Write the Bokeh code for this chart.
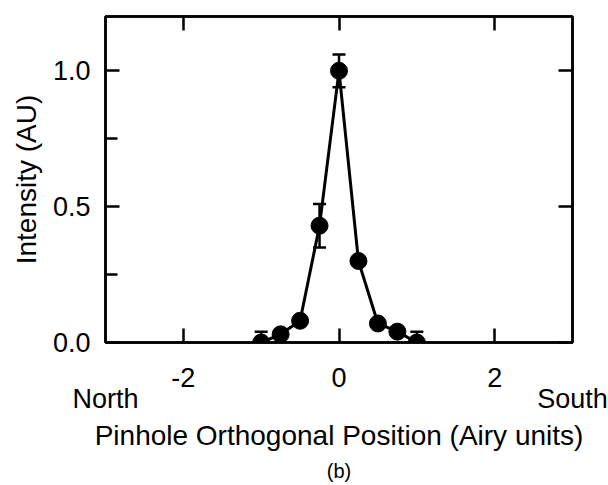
from bokeh.plotting import figure
from bokeh.models import (LinearAxis, FixedTicker, Range1d, Whisker, ColumnDataSource,
                          TeeHead, Title)
from bokeh.embed import file_html
from bokeh.resources import INLINE

# ---- data ----
positions = [-1.0, -0.75, -0.5, -0.25, 0.0, 0.25, 0.5, 0.75, 1.0]
intensity = [0.0, 0.03, 0.08, 0.43, 1.0, 0.30, 0.07, 0.04, 0.0]
errors = [0.04, 0.0, 0.0, 0.08, 0.06, 0.0, 0.0, 0.0, 0.04]
x_ticks = [-2, 0, 2]
x_tick_labels = ["-2", "0", "2"]
y_ticks = [0.0, 0.5, 1.0]
y_tick_labels = ["0.0", "0.5", "1.0"]
y_minor_ticks = [0.25, 0.75]
end_ticks = [-3, 3]
end_labels = ["North", "South"]
x_title = "Pinhole Orthogonal Position (Airy units)"
y_title = "Intensity (AU)"
panel_label = "(b)"

FONT = "Liberation Sans"
BLACK = "#000000"
LW = 2.5

p = figure(width=608, height=485, x_range=Range1d(-3, 3), y_range=Range1d(0, 1.2),
           output_backend="svg", toolbar_location=None,
           min_border_left=105, min_border_right=36, min_border_top=16, min_border_bottom=142,
           y_axis_label=y_title)
p.grid.visible = False
p.outline_line_color = BLACK
p.outline_line_width = LW
p.background_fill_color = "white"
p.border_fill_color = "white"

xa = p.xaxis[0]
xa.ticker = FixedTicker(ticks=x_ticks)
xa.major_label_overrides = dict(zip(x_ticks, x_tick_labels))
ya = p.yaxis[0]
ya.ticker = FixedTicker(ticks=y_ticks, minor_ticks=y_minor_ticks)
ya.major_label_overrides = dict(zip(y_ticks, y_tick_labels))

for ax in (xa, ya):
    ax.axis_line_width = LW
    ax.axis_line_color = BLACK
    ax.major_tick_line_width = LW
    ax.major_tick_line_color = BLACK
    ax.major_tick_in = 14
    ax.major_tick_out = 0
    ax.major_label_text_font = FONT
    ax.major_label_text_font_size = "27px"
    ax.major_label_text_color = BLACK
    ax.axis_label_text_font = FONT
    ax.axis_label_text_font_size = "28px"
    ax.axis_label_text_font_style = "normal"
    ax.axis_label_text_color = BLACK

xa.minor_tick_line_color = None
ya.minor_tick_line_width = LW
ya.minor_tick_line_color = BLACK
ya.minor_tick_in = 12
ya.minor_tick_out = 0
xa.major_label_standoff = 25
ya.major_label_standoff = 15
ya.axis_label_standoff = 8

# second below axis: North / South end labels and the x title
ends = LinearAxis(ticker=FixedTicker(ticks=end_ticks),
                  major_label_overrides=dict(zip(end_ticks, end_labels)),
                  axis_label=x_title)
ends.axis_line_color = None
ends.major_tick_line_color = None
ends.minor_tick_line_color = None
ends.major_label_standoff = -12
ends.major_label_text_font = FONT
ends.major_label_text_font_size = "27px"
ends.major_label_text_color = BLACK
ends.axis_label_text_font = FONT
ends.axis_label_text_font_size = "28px"
ends.axis_label_text_font_style = "normal"
ends.axis_label_text_color = BLACK
ends.axis_label_standoff = 3
p.add_layout(ends, "below")

# top and right axes: ticks only
top = LinearAxis(ticker=FixedTicker(ticks=x_ticks))
right = LinearAxis(ticker=FixedTicker(ticks=y_ticks))
for ax, ticks in ((top, x_ticks), (right, y_ticks)):
    ax.axis_line_width = LW
    ax.axis_line_color = BLACK
    ax.major_tick_line_width = LW
    ax.major_tick_line_color = BLACK
    ax.major_tick_in = 14
    ax.major_tick_out = 0
    ax.minor_tick_line_color = None
    ax.major_label_overrides = {t: "" for t in ticks}
    ax.major_label_standoff = 0
    ax.major_label_text_font_size = "1px"
p.add_layout(top, "above")
p.add_layout(right, "right")

# data
src = ColumnDataSource(dict(x=positions, y=intensity))
p.line("x", "y", source=src, line_color=BLACK, line_width=3)
p.scatter("x", "y", source=src, size=17, fill_color=BLACK, line_color=BLACK)

eb = [(xv, yv, ev) for xv, yv, ev in zip(positions, intensity, errors) if ev > 0]
esrc = ColumnDataSource(dict(x=[e[0] for e in eb],
                             upper=[e[1] + e[2] for e in eb],
                             lower=[e[1] - e[2] for e in eb]))
p.add_layout(Whisker(base="x", upper="upper", lower="lower", source=esrc,
                     line_color=BLACK, line_width=LW,
                     upper_head=TeeHead(size=13, line_width=LW, line_color=BLACK),
                     lower_head=TeeHead(size=13, line_width=LW, line_color=BLACK)))

# panel label
p.add_layout(Title(text=panel_label, align="center", text_font=FONT,
                   text_font_size="20px", text_font_style="normal",
                   text_color=BLACK, standoff=8), "below")

open("out.html", "w").write(file_html(p, INLINE))
